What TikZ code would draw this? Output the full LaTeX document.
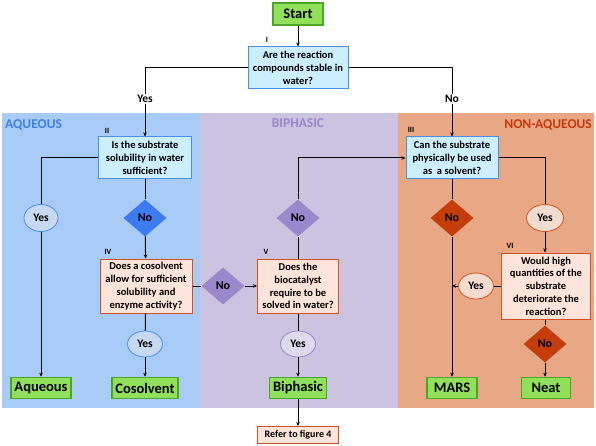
\documentclass[tikz,border=0pt]{standalone}
\usepackage{fontspec}
\setmainfont{Carlito}
\usetikzlibrary{shapes.geometric,arrows.meta}
\definecolor{aqbg}{HTML}{A9CCF6}
\definecolor{bibg}{HTML}{CBC3DF}
\definecolor{nabg}{HTML}{E8A886}
\definecolor{bluefill}{HTML}{CDEEFD}
\definecolor{blueline}{HTML}{4A8FE6}
\definecolor{orfill}{HTML}{FDE4DA}
\definecolor{orline}{HTML}{D5501C}
\definecolor{grfill}{HTML}{90E05C}
\definecolor{grline}{HTML}{4CA62A}
\definecolor{dblue}{HTML}{3D7BF0}
\definecolor{dpurp}{HTML}{9B87CB}
\definecolor{dred}{HTML}{C43D0A}
\definecolor{ovblue}{HTML}{C6D9F1}
\definecolor{ovpurp}{HTML}{DCDAEB}
\definecolor{ovred}{HTML}{F2DCCF}
\definecolor{tblue}{HTML}{3C7FE8}
\definecolor{tpurp}{HTML}{9A86CA}
\definecolor{tred}{HTML}{C8380A}
\tikzset{
  qblue/.style={draw=blueline,fill=bluefill,line width=1pt,align=center,font=\bfseries\fontsize{10.5}{12.8}\selectfont,inner sep=1pt},
  qor/.style={draw=orline,fill=orfill,line width=1pt,align=center,font=\bfseries\fontsize{10.5}{12.8}\selectfont,inner sep=1pt},
  res/.style={draw=grline,fill=grfill,line width=1.6pt,font=\bfseries\fontsize{14.5}{16}\selectfont,minimum height=21pt,inner sep=1pt},
  dia/.style={diamond,minimum width=43pt,minimum height=37pt,inner sep=0pt,font=\bfseries\fontsize{12}{13}\selectfont,aspect=1.16},
  ov/.style={ellipse,line width=0.8pt,minimum width=35pt,minimum height=26pt,inner sep=0pt,font=\bfseries\fontsize{11.5}{12}\selectfont},
  lbl/.style={font=\bfseries\fontsize{11.5}{12}\selectfont,fill=white,inner sep=1pt},
  num/.style={font=\bfseries\fontsize{8}{8}\selectfont,inner sep=0pt},
  ttl/.style={font=\bfseries\fontsize{13.5}{14}\selectfont,inner sep=0pt},
  ln/.style={line width=1pt},
  ar/.style={line width=1pt,-{Stealth[length=4pt,width=3.5pt]}}
}
\begin{document}
\begin{tikzpicture}[x=1pt,y=-1pt]
\useasboundingbox (0,0) rectangle (596,446);
% backgrounds
\fill[aqbg] (2,113) rectangle (200,408);
\fill[bibg] (200,113) rectangle (398,408);
\fill[nabg] (398,113) rectangle (594,408);
\node[ttl,text=tblue,anchor=west] (tA) at (5,125) {AQUEOUS};
\node[ttl,text=tpurp] (tB) at (298,123) {BIPHASIC};
\node[ttl,text=tred,anchor=east] (tC) at (592,125) {NON-AQUEOUS};
% nodes
\node[res,minimum width=50pt,minimum height=22pt] (start) at (298,14) {Start};
\node[qblue,minimum width=100pt,minimum height=42pt] (q1) at (298,68) {Are the reaction\\compounds stable in\\water?};
\node[num] (n1) at (267,40) {I};
\node[lbl] (yes1) at (145,99) {Yes};
\node[lbl] (no1) at (452,99) {No};
\node[qblue,minimum width=93pt,minimum height=42pt] (q2) at (145,158) {Is the substrate\\solubility in water\\sufficient?};
\node[num] (n2) at (107,131) {II};
\node[qblue,minimum width=92pt,minimum height=42pt] (q3) at (452,158) {Can the substrate\\physically be used\\as\ \ a solvent?};
\node[num] (n3) at (411,130) {III};
\node[ov,draw=blueline,fill=ovblue,minimum width=34pt,minimum height=27pt] (yA) at (41,218) {Yes};
\node[dia,fill=dblue] (dA) at (145,218) {No};
\node[qor,minimum width=92pt,minimum height=54pt] (q4) at (146,286) {Does a cosolvent\\allow for sufficient\\solubility and\\enzyme activity?};
\node[num] (n4) at (108,252) {IV};
\node[ov,draw=blueline,fill=ovblue] (yC) at (145,344) {Yes};
\node[res] (aq) at (41,388) {\,Aqueous\,};
\node[res] (co) at (145,388) {\,Cosolvent\,};
\node[dia,fill=dpurp] (dB) at (223,286) {No};
\node[qor,minimum width=81pt,minimum height=54pt] (q5) at (298,286) {Does the\\biocatalyst\\require to be\\solved in water?};
\node[num] (n5) at (266,252) {V};
\node[dia,fill=dpurp] (dC) at (298,218) {No};
\node[ov,draw=dpurp,fill=ovpurp] (yB) at (298,344) {Yes};
\node[res] (bi) at (298,388) {\,Biphasic\,};
\node[qor,minimum width=81pt,minimum height=17pt,font=\bfseries\fontsize{10}{11}\selectfont] (ref) at (298,435) {Refer to figure 4};
\node[dia,fill=dred] (dD) at (452,218) {No};
\node[ov,draw=orline,fill=ovred,minimum width=37pt,minimum height=27pt] (yD) at (545,218) {Yes};
\node[qor,minimum width=89pt,minimum height=66pt] (q6) at (546,286) {Would high\\quantities of the\\substrate\\deteriorate the\\reaction?};
\node[num] (n6) at (510,246) {VI};
\node[ov,draw=orline,fill=ovred] (yE) at (476,286) {Yes};
\node[dia,fill=dred] (dE) at (545,344) {No};
\node[res,minimum width=50pt] (ma) at (452,388) {MARS};
\node[res,minimum width=49pt] (ne) at (546,388) {Neat};
\coordinate (mj) at (452,286);
% connectors
\draw[ar] (start) -- (q1);
\draw[ln] (q1.west) -| (yes1.north);
\draw[ar] (yes1) -- (q2);
\draw[ln] (q1.east) -| (no1.north);
\draw[ar] (no1) -- (q3);
\draw[ln] (q2.west) -| (yA.north);
\draw[ar] (yA) -- (aq);
\draw[ln] (q2) -- (dA);
\draw[ar] (dA) -- (q4);
\draw[ln] (q4) -- (yC);
\draw[ar] (yC) -- (co);
\draw[ln] (q4.east) -- (dB);
\draw[ar] (dB) -- (q5);
\draw[ln] (q5) -- (dC);
\draw[ar] (dC.north) |- (q3.west);
\draw[ln] (q5) -- (yB);
\draw[ar] (yB) -- (bi);
\draw[ar] (bi) -- (ref);
\draw[ln] (q3) -- (dD);
\draw[ar] (dD) -- (ma);
\draw[ln] (q3.east) -| (yD.north);
\draw[ar] (yD) -- (q6.north -| yD);
\draw[ln] (q6.west) -- (yE);
\draw[ar] (yE) -- (mj);
\draw[ln] (q6.south -| dE) -- (dE);
\draw[ar] (dE) -- (ne.north -| dE);
\end{tikzpicture}
\end{document}
